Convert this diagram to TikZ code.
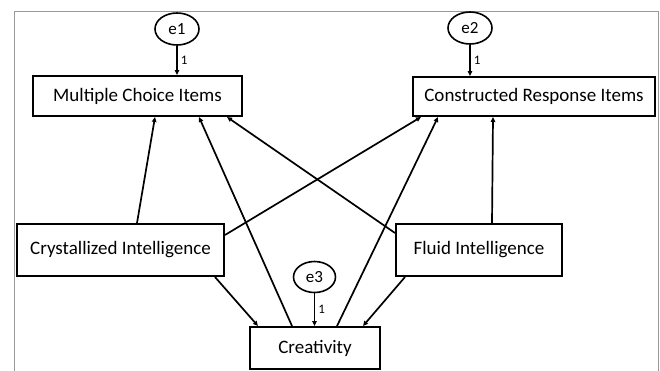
\documentclass[tikz,border=0pt]{standalone}
\usepackage{fontspec}
\setmainfont{Carlito}
\usetikzlibrary{arrows.meta,shapes.geometric}

\begin{document}
\begin{tikzpicture}[x=1pt,y=-1pt]
\tikzstyle{obs}=[draw,line width=2pt,inner sep=0pt,font=\fontsize{19}{22}\selectfont]
\tikzstyle{err}=[draw,ellipse,fill=white,line width=1.6pt,minimum width=44pt,minimum height=32pt,inner sep=0pt,font=\fontsize{17}{20}\selectfont]
\tikzstyle{reg}=[line width=1.7pt,-{Triangle[length=5pt,width=4.5pt]}]
\tikzstyle{one}=[right,font=\fontsize{13}{15}\selectfont,inner sep=3pt]
\useasboundingbox (0,0) rectangle (660,370);
\clip (0,0) rectangle (660,370);
% frame
\draw[gray!80,line width=1pt] (14,380) -- (14,11) -- (658,11) -- (658,380);
% observed variables
\node[obs,minimum width=209pt,minimum height=40pt] (mc) at (137.5,96) {Multiple Choice Items};
\node[obs,minimum width=242pt,minimum height=39pt] (cr) at (534,96.5) {Constructed Response Items};
\node[obs,minimum width=207pt,minimum height=52pt] (cryst) at (120.5,250) {Crystallized Intelligence};
\node[obs,minimum width=166pt,minimum height=52pt] (fluid) at (479,250) {Fluid Intelligence};
\node[obs,minimum width=130pt,minimum height=42pt] (crea) at (315,348) {Creativity};
% error terms
\node[err] (e1) at (177,29) {e1};
\node[err] (e2) at (470,28) {e2};
\node[err,minimum width=42pt,minimum height=31pt] (e3) at (314.5,277) {e3};
\draw[reg] (e1.south) -- (e1.south |- mc.north) node[one,midway] {1};
\draw[reg] (e2.south) -- (e2.south |- cr.north) node[one,midway] {1};
\draw[reg] (e3.south) -- (e3.south |- crea.north) node[one,midway] {1};
% paths
\draw[reg] ([xshift=16.5pt]cryst.north) -- ([xshift=17.5pt]mc.south);
\draw[reg] ([xshift=-23pt]crea.north) -- ([xshift=61.5pt]mc.south);
\draw[reg] ([yshift=17pt]fluid.west) -- ([xshift=89.5pt]mc.south);
\draw[reg] ([yshift=15pt]cryst.east) -- ([xshift=-113pt]cr.south);
\draw[reg] ([xshift=22pt]crea.north) -- ([xshift=-96pt]cr.south);
\draw[reg] ([xshift=13pt]fluid.north) -- ([xshift=-41pt]cr.south);
\draw[reg] ([xshift=94.5pt]cryst.south) -- ([xshift=-57pt]crea.north);
\draw[reg] ([xshift=-74pt]fluid.south) -- ([xshift=48pt]crea.north);
\end{tikzpicture}
\end{document}
